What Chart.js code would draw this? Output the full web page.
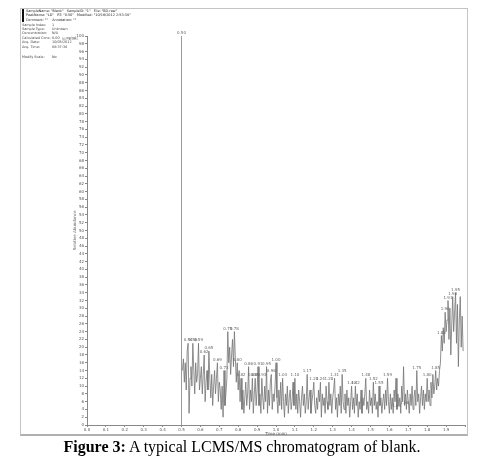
<!DOCTYPE html>
<html>
<head>
<meta charset="utf-8">
<script src="https://cdn.jsdelivr.net/npm/chart.js@4/dist/chart.umd.min.js"></script>
<style>
  body { margin: 0; background: #fff; }
  #wrap { position: relative; width: 484px; height: 467px; }
  #frame { position: absolute; left: 20px; top: 8px; width: 446px; height: 425px;
           border: 1px solid #c4c4c4; border-bottom: 2px solid #b0b0b0; }
  canvas { position: absolute; left: 0; top: 0; }
  #caption { position: absolute; left: 0; top: 438px; width: 484px; text-align: center;
             font-family: "Liberation Serif", "Times New Roman", serif; font-size: 16px; color: #000; }
</style>
</head>
<body>
<div id="wrap">
  <div id="frame"></div>
  <canvas id="chrom" width="484" height="440"></canvas>
  <div id="caption"><b>Figure 3:</b> A typical LCMS/MS chromatogram of blank.</div>
</div>
<script>
// tick labels
const xTickLabels = ['0.0','0.1','0.2','0.3','0.4','0.5','0.6','0.7','0.8','0.9',
  '1.0','1.1','1.2','1.3','1.4','1.5','1.6','1.7','1.8','1.9'];
const yTickLabels = ['0','2','4','6','8','10','12','14','16','18','20','22','24','26','28','30',
  '32','34','36','38','40','42','44','46','48','50','52','54','56','58','60','62','64','66','68',
  '70','72','74','76','78','80','82','84','86','88','90','92','94','96','98','100'];

// the tall spike at 0.50 min
const spikeTimes = [0.50, 0.50];
const spikeValues = [0, 100];

// scans from 0.505 min, one every 0.005 min (relative abundance, %)
const scanStart = 0.505;
const scanStep = 0.005;
const traceValues = [
  14,17,11,16,9,19,21,3,12,15,10,21,14,8,16,11,13,21,9,12,
  15,8,13,18,6,11,14,9,19,12,7,13,5,10,14,8,12,16,6,11,
  9,4,10,2,14,5,8,12,24,16,20,13,18,22,15,24,17,11,16,9,
  14,6,12,4,9,3,7,11,5,8,15,4,9,6,12,3,8,12,5,9,
  15,5,8,3,12,7,4,10,6,15,3,9,5,11,13,4,8,6,10,16,
  7,3,9,5,11,4,12,6,2,8,5,10,3,7,9,4,6,11,5,12,
  4,8,3,9,6,2,7,10,5,8,3,6,13,4,7,9,3,6,8,11,
  5,3,7,4,9,6,11,2,8,5,7,3,10,6,4,11,5,8,3,7,
  9,12,4,7,2,8,5,10,3,13,6,4,8,3,9,5,7,2,6,10,
  4,7,3,10,5,8,2,6,4,9,3,7,5,8,12,4,6,3,9,5,
  7,3,11,5,8,4,6,2,10,5,7,3,6,8,4,9,5,12,6,3,
  8,4,7,3,9,6,12,4,8,5,7,3,10,6,15,5,8,4,9,6,
  3,8,5,10,4,7,9,5,14,6,8,3,7,10,5,9,4,8,6,12,
  6,9,5,11,7,13,8,10,14,9,12,10,14,16,23,19,25,21,29,24,
  27,32,22,30,18,26,33,24,29,34,21,31,15,27,33,20,28,19
];

// labelled peaks (retention times)
const peakTimes = [0.50, 0.535, 0.56, 0.59, 0.62, 0.645, 0.69, 0.725, 0.745, 0.78, 0.795,
  0.815, 0.855, 0.875, 0.89, 0.905, 0.925, 0.95, 0.975, 1.00, 1.035, 1.10, 1.165, 1.20,
  1.235, 1.28, 1.31, 1.35, 1.40, 1.42, 1.475, 1.515, 1.545, 1.59, 1.64, 1.68, 1.745,
  1.80, 1.845, 1.875, 1.895, 1.91, 1.935, 1.95];
const peakLabels = ['0.50','0.54','0.56','0.59','0.62','0.65','0.69','0.73','0.75','0.78','0.80',
  '0.82','0.86','0.88','0.89','0.91','0.93','0.95','0.98','1.00','1.04','1.10','1.17','1.20',
  '1.24','1.28','1.31','1.35','1.40','1.42','1.48','1.52','1.55','1.59','1.64','1.68','1.75',
  '1.80','1.85','1.88','1.90','1.91','1.94','1.95'];

const tracePoints = traceValues.map((v, i) => ({ x: scanStart + i * scanStep, y: v }));
const spikePoints = spikeTimes.map((t, i) => ({ x: t, y: spikeValues[i] }));

function valueAt(t) {
  if (t <= spikeTimes[0] + 0.001) return spikeValues[1];
  const i = Math.round((t - scanStart) / scanStep);
  return traceValues[Math.max(0, Math.min(traceValues.length - 1, i))];
}

// header block + peak labels
const extras = {
  id: 'extras',
  afterDraw(chart) {
    const c = chart.ctx;
    const xs = chart.scales.x, ys = chart.scales.y;
    c.save();
    c.fillStyle = '#666';
    c.font = '4px "DejaVu Sans"';
    c.textAlign = 'center';
    c.textBaseline = 'bottom';
    peakTimes.forEach((t, k) => {
      c.fillText(peakLabels[k], xs.getPixelForValue(t), ys.getPixelForValue(valueAt(t)) - 1);
    });

    c.fillStyle = '#111';
    c.fillRect(22, 9, 2, 13);
    c.textAlign = 'left';
    c.textBaseline = 'middle';
    c.font = '3.4px "DejaVu Sans"';
    c.fillStyle = '#222';
    c.fillText('SampleName: "Blank"   SampleID: "1"   File: "BD.raw"', 26, 11);
    c.fillText('PeakName: "LD"   RT: "0.50"   Modified: "10/16/2012 2:53:34"', 26, 15.5);
    c.fillText('Comment: ""    Annotation: ""', 26, 20);
    c.fillStyle = '#444';
    const rows = [
      ['Sample Index:', '1', 25],
      ['Sample Type:', 'Unknown', 29],
      ['Concentration:', 'N/A', 33.5],
      ['Calculated Conc:', '0.00      ng/mL', 38],
      ['Acq. Date:', '10/05/2012', 42.5],
      ['Acq. Time:', '08:37:34', 47],
      ['Modify Scale:', 'No', 57]
    ];
    rows.forEach(r => {
      c.fillText(r[0], 22, r[2]);
      c.fillText(r[1], 52, r[2]);
    });
    c.fillStyle = '#888';
    c.fillText('NL: 1.0E2', 62, 39);
    c.restore();
  }
};

const ctx = document.getElementById('chrom').getContext('2d');
new Chart(ctx, {
  type: 'line',
  data: {
    datasets: [
      { data: spikePoints, borderColor: '#9a9a9a', borderWidth: 1, pointRadius: 0, tension: 0 },
      { data: tracePoints, borderColor: '#747474', borderWidth: 0.8, pointRadius: 0, tension: 0 }
    ]
  },
  options: {
    responsive: false,
    animation: false,
    layout: { padding: { left: 66, right: 19, top: 36, bottom: 4 } },
    plugins: { legend: { display: false }, tooltip: { enabled: false } },
    scales: {
      x: {
        type: 'linear', min: 0, max: 2.0,
        afterFit: s => { s.height = 11; },
        border: { color: '#888', width: 1 },
        grid: { drawOnChartArea: false, drawTicks: true, tickLength: 2, color: '#888' },
        ticks: {
          stepSize: 0.1, autoSkip: false, maxRotation: 0, padding: 1,
          color: '#555', font: { size: 4, family: 'DejaVu Sans' },
          callback: (v, i) => xTickLabels[i] ?? ''
        },
        title: { display: true, text: 'Time (min)', color: '#555', padding: 0,
                 font: { size: 4, family: 'DejaVu Sans' } }
      },
      y: {
        min: 0, max: 100,
        afterFit: s => { s.width = 21; },
        border: { color: '#888', width: 1 },
        grid: { drawOnChartArea: false, drawTicks: true, tickLength: 2, color: '#888' },
        ticks: {
          stepSize: 2, autoSkip: false, padding: 1,
          color: '#555', font: { size: 4, family: 'DejaVu Sans' },
          callback: v => yTickLabels.includes(String(v)) ? String(v) : ''
        },
        title: { display: true, text: 'Relative Abundance', color: '#666',
                 padding: { top: 7, bottom: 0 }, font: { size: 4, family: 'DejaVu Sans' } }
      }
    }
  },
  plugins: [extras]
});
</script>
</body>
</html>
